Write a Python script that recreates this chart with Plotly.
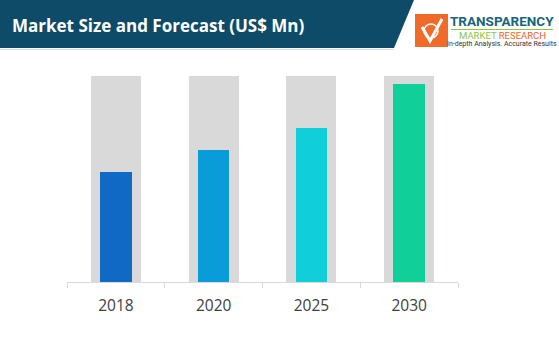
import plotly.graph_objects as go

years = ["2018", "2020", "2025", "2030"]
values = [110, 132, 154, 198]
background = [206, 206, 206, 206]
bar_colors = ["#1169C6", "#0A9CD8", "#10CFD9", "#11CF98"]
title_text = "Market Size and Forecast (US$ Mn)"

W, H = 559, 363
ML, MR, MT, MB = 67, 101, 76, 81
PW, PH = W - ML - MR, H - MT - MB


def px(x):
    return (x - ML) / PW


def py(y):
    return (H - MB - y) / PH


fig = go.Figure()
fig.add_trace(go.Bar(x=years, y=background, width=0.51, marker=dict(color="#D9D9D9", line=dict(width=0)),
                     hoverinfo="skip", showlegend=False))
fig.add_trace(go.Bar(x=years, y=values, width=0.32, marker=dict(color=bar_colors, line=dict(width=0)),
                     showlegend=False))

shapes = []
# header band
shapes.append(dict(type="path", xref="paper", yref="paper",
                   path=f"M {px(0)},{py(0)} L {px(414)},{py(0)} L {px(394)},{py(48)} L {px(0)},{py(48)} Z",
                   fillcolor="#0D4B68", line=dict(width=0), layer="above"))
shapes.append(dict(type="line", xref="paper", yref="paper", x0=px(0), x1=px(394), y0=py(49.5), y1=py(49.5),
                   line=dict(color="#D5E0E6", width=1)))
# logo square
shapes.append(dict(type="rect", xref="paper", yref="paper", x0=px(415), x1=px(448), y0=py(14), y1=py(47),
                   fillcolor="#F06A2A", line=dict(width=0)))
# check mark
shapes.append(dict(type="path", xref="paper", yref="paper",
                   path=f"M {px(422)},{py(27)} L {px(430)},{py(41)} L {px(442)},{py(19)}",
                   line=dict(color="white", width=3)))
shapes.append(dict(type="circle", xref="paper", yref="paper", x0=px(424), x1=px(438), y0=py(24), y1=py(38),
                   line=dict(color="white", width=1.5)))
shapes.append(dict(type="line", xref="paper", yref="paper", x0=px(451), x1=px(553), y0=py(29.5), y1=py(29.5),
                   line=dict(color="#8DC63F", width=1)))

annotations = [
    dict(text=title_text, xref="paper", yref="paper", x=px(10), y=py(25), xanchor="left", yanchor="middle",
         showarrow=False, font=dict(family="Open Sans", size=17, color="white", weight="bold")),
    dict(text="TRANSPARENCY", xref="paper", yref="paper", x=px(502), y=py(20.5), xanchor="center", yanchor="middle",
         showarrow=False, font=dict(family="Roboto", size=13.5, color="#17657A", weight="bold")),
    dict(text="<span style='color:#8DC63F'>MARKET</span> <span style='color:#F26522'>RESEARCH</span>",
         xref="paper", yref="paper", x=px(502), y=py(35.5), xanchor="center", yanchor="middle",
         showarrow=False, font=dict(family="Roboto", size=9.5)),
    dict(text="In-depth Analysis. Accurate Results", xref="paper", yref="paper", x=px(502), y=py(44),
         xanchor="center", yanchor="middle", showarrow=False,
         font=dict(family="Roboto", size=7, color="#333333")),
]

fig.update_layout(
    width=W, height=H, margin=dict(l=ML, r=MR, t=MT, b=MB),
    paper_bgcolor="white", plot_bgcolor="white",
    barmode="overlay", bargap=0,
    shapes=shapes, annotations=annotations,
    xaxis=dict(type="category", showline=True, linecolor="#D9D9D9", linewidth=1,
               ticks="outside", tickson="boundaries", ticklen=5, tickcolor="#D9D9D9",
               ticklabelstandoff=9,
               tickfont=dict(family="Open Sans", size=15.5, color="#404040"), showgrid=False, fixedrange=True),
    yaxis=dict(range=[0, 206], visible=False, showgrid=False, fixedrange=True),
)

fig.write_html("out.html", config={"displayModeBar": False},
               post_script="document.body.style.margin='0';document.body.style.overflow='hidden';")
